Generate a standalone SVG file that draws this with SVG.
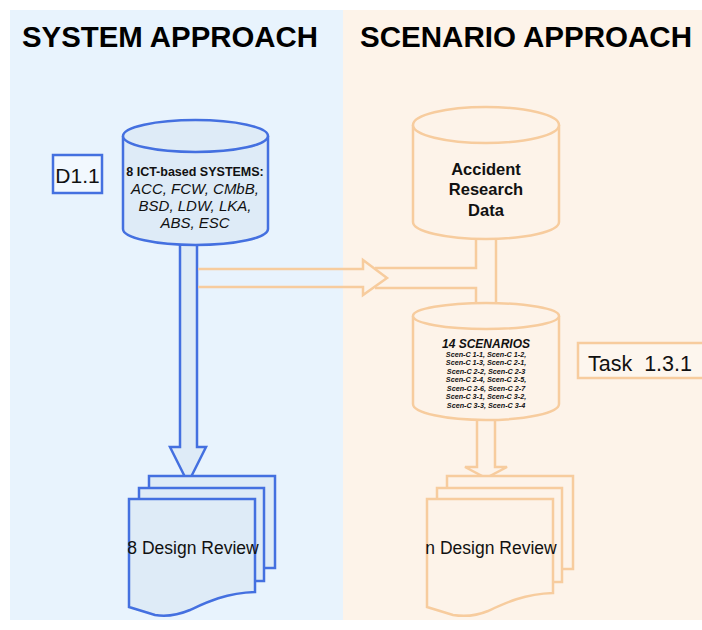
<svg xmlns="http://www.w3.org/2000/svg" width="702" height="630" viewBox="0 0 702 630">
  <style>
    .title { font-family: "Liberation Sans", Arial, sans-serif; font-weight: bold; font-size: 29px; fill: #000; }
    .blue { fill: #deebf7; stroke: #4470e0; stroke-width: 2.5; }
    .orange { fill: #fdf3e9; stroke: #f7cc9e; stroke-width: 2.5; }
    .bline { fill: none; stroke: #4470e0; stroke-width: 2.5; }
    .oline { fill: none; stroke: #f7cc9e; stroke-width: 2.5; }
    .lbl { font-family: "Liberation Sans", Arial, sans-serif; fill: #111; text-anchor: middle; }
  </style>

  <rect x="0" y="0" width="702" height="630" fill="#ffffff"/>
  <!-- two column backgrounds -->
  <rect x="10" y="10" width="333" height="610" fill="#e8f3fd"/>
  <rect x="343" y="10" width="359" height="610" fill="#fdf3e9"/>

  <text class="title" x="22" y="47" textLength="296" lengthAdjust="spacingAndGlyphs">SYSTEM APPROACH</text>
  <text class="title" x="360" y="47" textLength="332" lengthAdjust="spacingAndGlyphs">SCENARIO APPROACH</text>

  <!-- connectors -->
  <g id="connectors">
    <!-- blue hollow arrow: systems DB to design reviews -->
    <path class="blue" d="M180,244 V447 H170 L188,483 L206,447 H197 V244"/>
    <!-- orange hollow arrow from the system column into the scenario column -->
    <path class="oline" d="M198,269 H363 V260 L387,278 L363,295 V287 H198"/>
    <path class="oline" d="M375,268 H476 V237"/>
    <path class="oline" d="M375,288 H476 V316"/>
    <path class="oline" d="M496,237 V316"/>
    <!-- orange hollow arrow: scenarios to design reviews -->
    <path class="orange" d="M477,419 V467 H465 L486,478 L507,467 H495 V419"/>
  </g>

  <!-- systems database -->
  <g id="systems-db">
    <path class="blue" d="M123,136 V229 A72.5,16 0 0 0 268,229 V136"/>
    <ellipse class="blue" cx="195.5" cy="136" rx="72.5" ry="16"/>
    <text class="lbl" x="195" y="176" font-size="12.5" font-weight="bold">8 ICT-based SYSTEMS:</text>
    <text class="lbl" x="195" y="194" font-size="15" font-style="italic" fill="#333">ACC, FCW, CMbB,</text>
    <text class="lbl" x="195" y="211" font-size="15" font-style="italic" fill="#333">BSD, LDW, LKA,</text>
    <text class="lbl" x="195" y="228" font-size="15" font-style="italic" fill="#333">ABS, ESC</text>
  </g>

  <!-- D1.1 tag -->
  <g id="d11">
    <rect x="53" y="155" width="49" height="38" fill="#f2f8fe" stroke="#4470e0" stroke-width="2.5"/>
    <text class="lbl" x="77.5" y="183" font-size="21">D1.1</text>
  </g>

  <!-- system design reviews (stacked documents) -->
  <g id="system-reviews">
    <rect class="blue" x="149" y="476" width="126" height="92"/>
    <rect class="blue" x="139" y="488" width="125" height="93"/>
    <path class="blue" d="M129,499 H255 V592 C225,593 205,603 190,610 C178,615 168,617 155,615 L129,607 Z"/>
    <text class="lbl" x="193" y="554" font-size="17.5">8 Design Review</text>
  </g>

  <!-- accident research database -->
  <g id="accident-db">
    <path class="orange" d="M413,125 V222 A73,17 0 0 0 559,222 V125"/>
    <ellipse class="orange" cx="486" cy="125" rx="73" ry="18"/>
    <text class="lbl" x="486" y="175" font-size="16.5" font-weight="bold">Accident</text>
    <text class="lbl" x="486" y="195" font-size="16.5" font-weight="bold">Research</text>
    <text class="lbl" x="486" y="216" font-size="16.5" font-weight="bold">Data</text>
  </g>

  <!-- scenarios database -->
  <g id="scenarios-db">
    <path class="orange" d="M413,316 V404 A73,16 0 0 0 559,404 V316"/>
    <ellipse class="orange" cx="486" cy="316" rx="73" ry="13"/>
    <text class="lbl" x="486" y="348" font-size="12" font-weight="bold" font-style="italic">14 SCENARIOS</text>
    <g font-size="7.2" font-weight="bold" font-style="italic" fill="#222">
      <text class="lbl" x="486" y="356.5">Scen-C 1-1, Scen-C 1-2,</text>
      <text class="lbl" x="486" y="365">Scen-C 1-3, Scen-C 2-1,</text>
      <text class="lbl" x="486" y="373.5">Scen-C 2-2, Scen-C 2-3</text>
      <text class="lbl" x="486" y="382">Scen-C 2-4, Scen-C 2-5,</text>
      <text class="lbl" x="486" y="390.5">Scen-C 2-6, Scen-C 2-7</text>
      <text class="lbl" x="486" y="399">Scen-C 3-1, Scen-C 3-2,</text>
      <text class="lbl" x="486" y="407.5">Scen-C 3-3, Scen-C 3-4</text>
    </g>
  </g>

  <!-- Task 1.3.1 tag -->
  <g id="task131">
    <rect x="578" y="343" width="130" height="35" fill="#fdf6ee" stroke="#f7cc9e" stroke-width="2.5"/>
    <text x="588" y="371" font-family="Liberation Sans, Arial, sans-serif" font-size="21.5" fill="#111" xml:space="preserve">Task  1.3.1</text>
  </g>

  <!-- scenario design reviews (stacked documents) -->
  <g id="scenario-reviews">
    <rect class="orange" x="447" y="476" width="126" height="93"/>
    <rect class="orange" x="437" y="488" width="125" height="94"/>
    <path class="orange" d="M427,499 H553 V593 C523,594 503,604 488,611 C476,616 466,617 453,615 L427,607 Z"/>
    <text class="lbl" x="491" y="554" font-size="17.5">n Design Review</text>
  </g>
</svg>
